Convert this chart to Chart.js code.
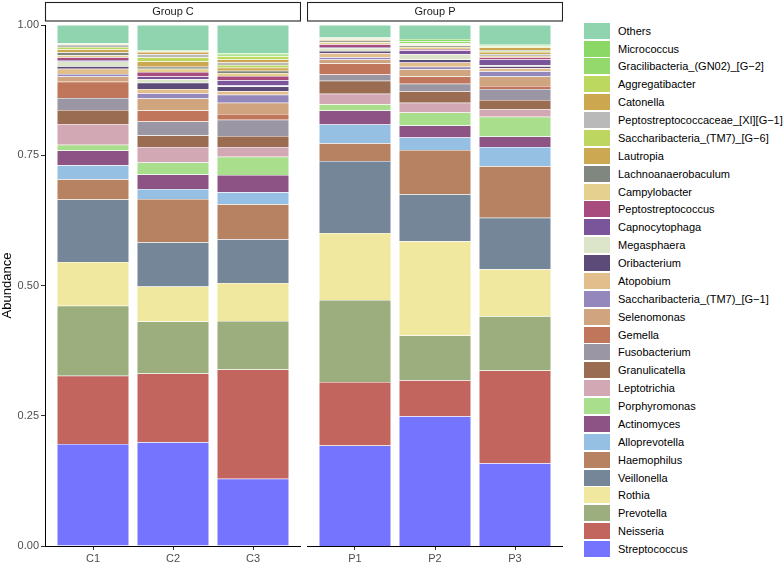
<!DOCTYPE html>
<html>
<head>
<meta charset="utf-8">
<script src="https://cdn.jsdelivr.net/npm/chart.js@4.4.1/dist/chart.umd.min.js"></script>
<style>
  body { margin: 0; background: #fff; }
  #wrap { position: relative; width: 784px; height: 564px; font-family: 'Liberation Sans', Arial, sans-serif; }
  canvas { position: absolute; top: 0; }
  #chartC { left: 0; }
  #chartP { left: 307px; }
  #legend { position: absolute; left: 584px; top: 21.8px; margin: 0; padding: 0; list-style: none; }
  #legend li { height: 17.88px; display: flex; align-items: center; font-size: 11px; color: #000; white-space: nowrap; }
  #legend .key { width: 26px; height: 16px; margin-right: 8px; flex: none; }
</style>
</head>
<body>
<div id="wrap">
  <canvas id="chartC" width="301" height="564"></canvas>
  <canvas id="chartP" width="256" height="564"></canvas>
  <ul id="legend"></ul>
</div>
<script>
// taxa, bottom of the stack first
const taxa = ['Streptococcus', 'Neisseria', 'Prevotella', 'Rothia', 'Veillonella', 'Haemophilus',
  'Alloprevotella', 'Actinomyces', 'Porphyromonas', 'Leptotrichia', 'Granulicatella', 'Fusobacterium',
  'Gemella', 'Selenomonas', 'Saccharibacteria_(TM7)_[G\u22121]', 'Atopobium', 'Oribacterium', 'Megasphaera',
  'Capnocytophaga', 'Peptostreptococcus', 'Campylobacter', 'Lachnoanaerobaculum', 'Lautropia',
  'Saccharibacteria_(TM7)_[G\u22126]', 'Peptostreptococcaceae_[XI][G\u22121]', 'Catonella', 'Aggregatibacter',
  'Gracilibacteria_(GN02)_[G\u22122]', 'Micrococcus', 'Others'];

const colors = ['#7474FE', '#C3655F', '#9CAE7D', '#F0E89F', '#758699', '#B78262',
  '#95BFE3', '#8C5384', '#A9DE8D', '#D2A8B5', '#9A6D52', '#9A96A3',
  '#C0765A', '#D0A47E', '#9387BB', '#E1BE8B', '#5C4A78', '#DCE4C9',
  '#7B5599', '#A84C7D', '#E5D08F', '#808780', '#CDA852',
  '#BDD660', '#B9B9B9', '#CCA74F', '#BCD85F',
  '#93D96B', '#8CD867', '#8FD4AE'];

const groupC = ['C1', 'C2', 'C3'];
const groupP = ['P1', 'P2', 'P3'];

// relative abundance per sample, same order as taxa
const C1 = [0.196, 0.131, 0.134, 0.084, 0.120, 0.039, 0.027, 0.028, 0.011, 0.040, 0.027, 0.023, 0.031, 0.010, 0.005,
  0.010, 0.005, 0.009, 0.003, 0.005, 0.004, 0.005, 0.006, 0.005, 0.004, 0.001, 0.001, 0.0005, 0.0005, 0.035];
const C2 = [0.199, 0.132, 0.100, 0.067, 0.085, 0.083, 0.019, 0.028, 0.023, 0.030, 0.022, 0.027, 0.021, 0.023, 0.010,
  0.008, 0.012, 0.007, 0.005, 0.009, 0.006, 0.004, 0.010, 0.008, 0.006, 0.004, 0.001, 0.001, 0.001, 0.049];
const C3 = [0.129, 0.210, 0.093, 0.073, 0.084, 0.067, 0.023, 0.033, 0.035, 0.019, 0.021, 0.031, 0.011, 0.022, 0.015,
  0.007, 0.009, 0.002, 0.010, 0.008, 0.006, 0.004, 0.006, 0.005, 0.005, 0.006, 0.006, 0.003, 0.003, 0.054];
const P1 = [0.193, 0.122, 0.157, 0.129, 0.138, 0.034, 0.036, 0.027, 0.012, 0.020, 0.025, 0.012, 0.021, 0.008, 0.004,
  0.008, 0.004, 0.006, 0.002, 0.005, 0.004, 0.003, 0.001, 0.001, 0.001, 0.001, 0.001, 0.0005, 0.0005, 0.024];
const P2 = [0.249, 0.069, 0.086, 0.181, 0.090, 0.085, 0.024, 0.023, 0.025, 0.019, 0.022, 0.014, 0.014, 0.014, 0.005,
  0.008, 0.006, 0.010, 0.007, 0.003, 0.004, 0.002, 0.001, 0.001, 0.001, 0.001, 0.001, 0.004, 0.004, 0.027];
const P3 = [0.159, 0.178, 0.104, 0.090, 0.099, 0.099, 0.037, 0.020, 0.038, 0.014, 0.018, 0.021, 0.006, 0.018, 0.010,
  0.006, 0.004, 0.002, 0.011, 0.004, 0.003, 0.003, 0.004, 0.002, 0.002, 0.005, 0.002, 0.001, 0.002, 0.038];

const yTicks = [0, 0.25, 0.5, 0.75, 1];

const font = "'Liberation Sans', Arial, sans-serif";

// facet strip above each panel
const stripPlugin = {
    id: 'strip',
    afterDraw(chart, args, opts) {
        const { ctx, chartArea: a } = chart;
        ctx.save();
        ctx.fillStyle = '#fff';
        ctx.fillRect(a.left, 2, a.right - a.left, 19);
        ctx.strokeStyle = '#222';
        ctx.lineWidth = 1.1;
        ctx.strokeRect(a.left + 0.5, 2.5, a.right - a.left - 1, 18.5);
        ctx.fillStyle = '#1A1A1A';
        ctx.font = '11px ' + font;
        ctx.textAlign = 'center';
        ctx.textBaseline = 'middle';
        ctx.fillText(opts.text, (a.left + a.right) / 2, 12);
        ctx.restore();
    }
};

function makeDatasets(samples) {
    return taxa.map((name, i) => ({
        label: name,
        data: samples.map((s, j) => ({ x: j + 1, y: s[i] })),
        backgroundColor: colors[i],
        borderColor: 'rgba(255,255,255,0.55)',
        borderWidth: 0.5,
        categoryPercentage: 1,
        barPercentage: 0.9
    }));
}

function createChart(elementId, labels, samples, stripText, showY) {
    const ctx = document.getElementById(elementId);
    return new Chart(ctx, {
        type: 'bar',
        data: { datasets: makeDatasets(samples) },
        plugins: [stripPlugin],
        options: {
            responsive: false,
            animation: false,
            layout: { padding: { top: 25, left: 0, right: 0, bottom: 0 } },
            scales: {
                x: {
                    type: 'linear',
                    stacked: true,
                    offset: false,
                    min: 0.4,
                    max: 3.6,
                    afterBuildTicks: s => { s.ticks = labels.map((_, i) => ({ value: i + 1 })); },
                    afterFit: s => { s.height = 18; },
                    ticks: {
                        callback: v => labels[v - 1],
                        color: '#4D4D4D',
                        font: { size: 11, family: font },
                        padding: 2,
                        maxRotation: 0
                    },
                    grid: { offset: false, drawOnChartArea: false, tickLength: 4, tickColor: '#333' },
                    border: { color: '#000', width: 1 }
                },
                y: {
                    display: showY,
                    stacked: true,
                    min: 0,
                    max: 1,
                    afterBuildTicks: s => { s.ticks = yTicks.map(v => ({ value: v })); },
                    afterFit: s => { s.width = showY ? 45 : 0; },
                    ticks: {
                        callback: v => v.toFixed(2),
                        color: '#4D4D4D',
                        font: { size: 11, family: font },
                        padding: 2
                    },
                    grid: { drawOnChartArea: false, tickLength: 4, tickColor: '#333' },
                    border: { color: '#000', width: 1 },
                    title: {
                        display: true,
                        text: 'Abundance',
                        color: '#000',
                        font: { size: 13, family: font },
                        padding: { top: 0, bottom: 0 }
                    }
                }
            },
            plugins: {
                legend: { display: false },
                tooltip: { enabled: false },
                strip: { text: stripText }
            }
        }
    });
}

createChart('chartC', groupC, [C1, C2, C3], 'Group C', true);
const chartP = createChart('chartP', groupP, [P1, P2, P3], 'Group P', false);

// legend, top of the stack first
const legendEl = document.getElementById('legend');
chartP.data.datasets.slice().reverse().forEach(ds => {
    const li = document.createElement('li');
    const key = document.createElement('span');
    key.className = 'key';
    key.style.background = ds.backgroundColor;
    li.appendChild(key);
    li.appendChild(document.createTextNode(ds.label));
    legendEl.appendChild(li);
});
</script>
</body>
</html>
